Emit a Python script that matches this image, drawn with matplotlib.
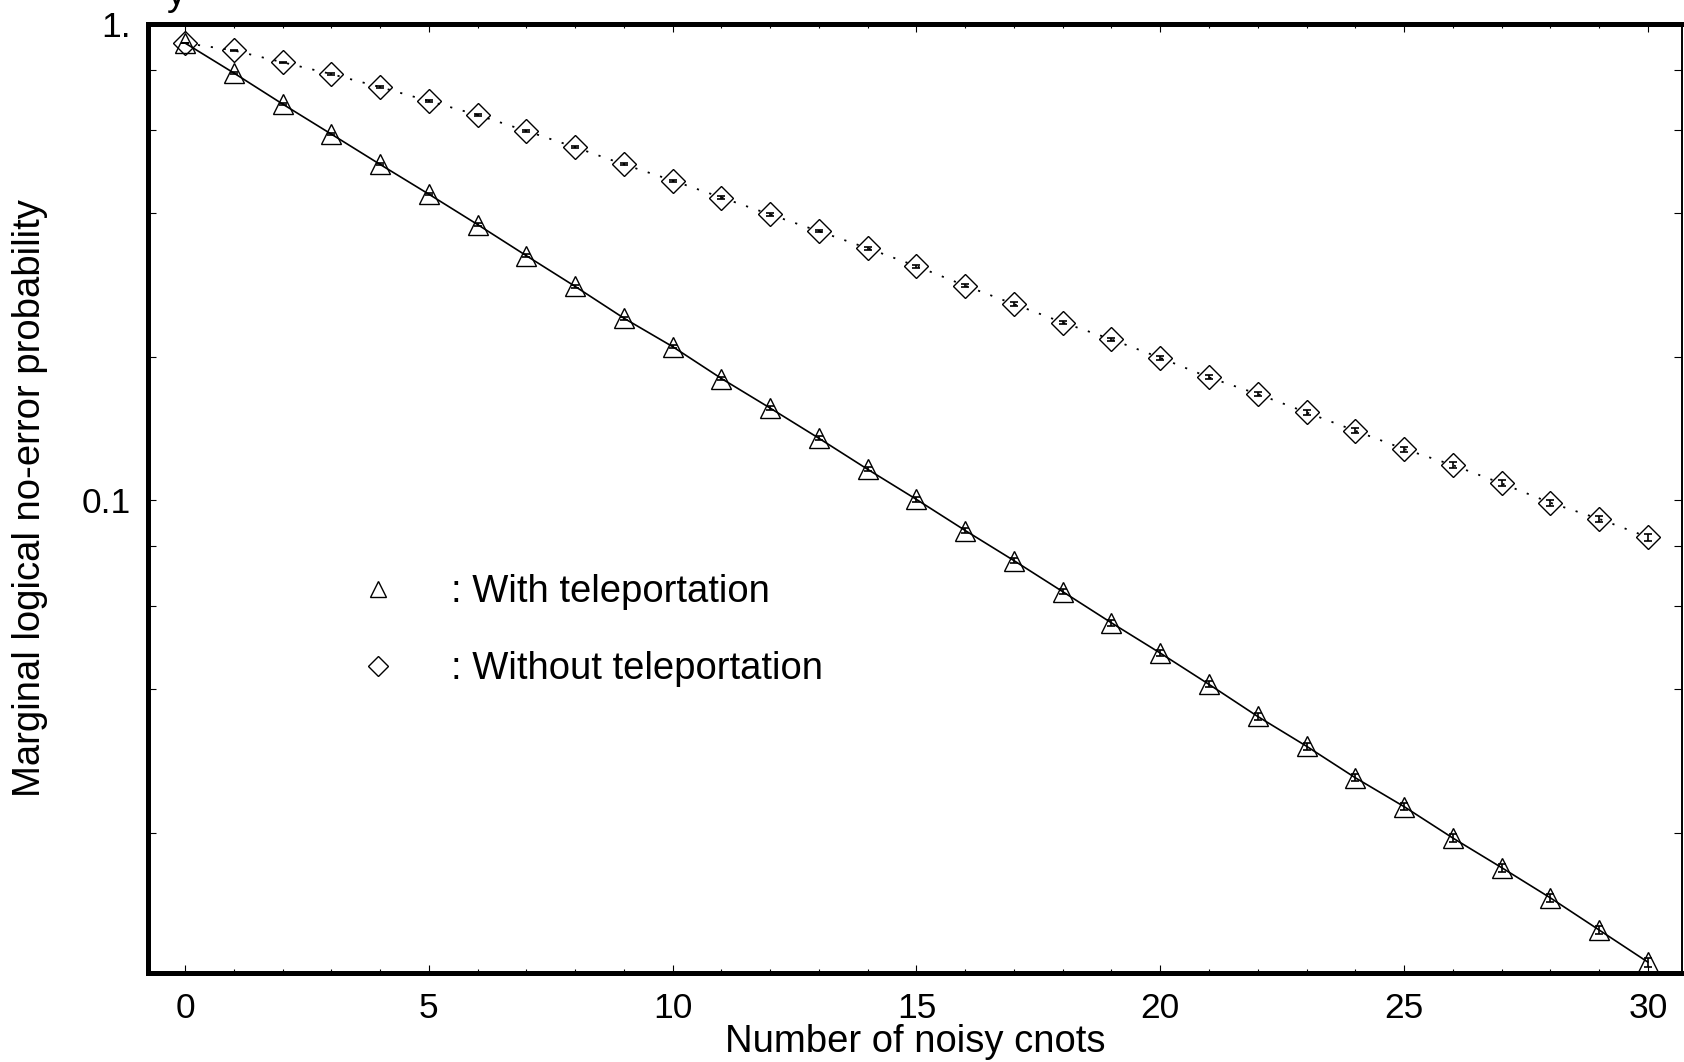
import matplotlib
matplotlib.use("Agg")
import matplotlib.pyplot as plt
from matplotlib.ticker import FixedLocator, NullFormatter, FixedFormatter
from matplotlib.lines import Line2D
import numpy as np

plt.rcParams['font.family'] = ['Liberation Sans', 'DejaVu Sans']

# number of noisy cnots
cnots = list(range(31))

# marginal logical no-error probability, with teleportation (triangles)
with_tele = [0.912, 0.789, 0.679, 0.587, 0.507, 0.439, 0.379, 0.326, 0.281, 0.241,
             0.210, 0.180, 0.156, 0.1348, 0.1160, 0.1003, 0.0863, 0.0746, 0.0642, 0.0552,
             0.0477, 0.0410, 0.0351, 0.0304, 0.0261, 0.0227, 0.0195, 0.0169, 0.0146, 0.0125,
             0.0107]
# relative error bar half-widths
with_tele_relerr = [0.002, 0.003, 0.004, 0.004, 0.005, 0.005, 0.006, 0.006, 0.007, 0.007,
                    0.008, 0.008, 0.009, 0.009, 0.010, 0.010, 0.011, 0.011, 0.012, 0.013,
                    0.013, 0.014, 0.015, 0.016, 0.016, 0.017, 0.018, 0.019, 0.020, 0.021,
                    0.022]

# without teleportation (diamonds)
without_tele = [0.912, 0.880, 0.831, 0.785, 0.737, 0.689, 0.644, 0.596, 0.551, 0.507,
                0.469, 0.432, 0.398, 0.367, 0.338, 0.310, 0.282, 0.258, 0.236, 0.2175,
                0.199, 0.181, 0.167, 0.1528, 0.1398, 0.1280, 0.1184, 0.1084, 0.0987, 0.0913,
                0.0836]
without_tele_relerr = [0.002, 0.002, 0.003, 0.003, 0.003, 0.004, 0.004, 0.004, 0.005, 0.005,
                       0.005, 0.006, 0.006, 0.006, 0.007, 0.007, 0.008, 0.008, 0.009, 0.009,
                       0.010, 0.010, 0.011, 0.011, 0.012, 0.012, 0.013, 0.014, 0.015, 0.016,
                       0.017]

y_major = [0.1, 1.0]
y_major_labels = ["0.1", "1."]
y_minor = [0.02, 0.04, 0.06, 0.08, 0.2, 0.4, 0.6, 0.8]

fig = plt.figure(figsize=(16.84, 10.62), dpi=100)
ax = fig.add_axes([0.0879, 0.0838, 0.9109, 0.8936])

wt = np.array(with_tele)
wo = np.array(without_tele)

# solid line + triangles
ax.plot(cnots, wt, color='black', lw=1.2, zorder=2)
ax.errorbar(cnots, wt, yerr=wt * np.array(with_tele_relerr), fmt='none',
            ecolor='black', elinewidth=1.2, capsize=3, capthick=1.2, zorder=3)
ax.plot(cnots, wt, ls='none', marker='^', ms=14, mfc='none', mec='black', mew=1.0,
        zorder=4, clip_on=False)

# dotted line + diamonds
ax.plot(cnots, wo, color='black', lw=1.3, ls=(0, (1.2, 6)), zorder=2)
ax.errorbar(cnots, wo, yerr=wo * np.array(without_tele_relerr), fmt='none',
            ecolor='black', elinewidth=1.2, capsize=3, capthick=1.2, zorder=3)
ax.plot(cnots, wo, ls='none', marker='D', ms=12, mfc='none', mec='black', mew=1.0,
        zorder=4, clip_on=False)

ax.set_yscale('log')
ax.set_xlim(-0.76, 30.70)
ax.set_ylim(0.01015, 1.0)

ax.set_xticks(range(0, 31, 5))
ax.set_xticks(range(0, 31), minor=True)
ax.yaxis.set_major_locator(FixedLocator(y_major))
ax.yaxis.set_major_formatter(FixedFormatter(y_major_labels))
ax.yaxis.set_minor_locator(FixedLocator(y_minor))
ax.yaxis.set_minor_formatter(NullFormatter())

ax.tick_params(which='both', direction='in', top=True, right=True, width=0.8, color='black')
ax.tick_params(axis='x', which='major', length=6, labelsize=25.5, pad=14)
ax.tick_params(axis='x', which='minor', length=3)
ax.tick_params(axis='y', which='both', length=6, labelsize=25.5, pad=12)

for side in ['left', 'top', 'bottom']:
    ax.spines[side].set_linewidth(3.6)
ax.spines['right'].set_linewidth(1.4)

ax.set_xlabel("Number of noisy cnots", fontsize=27.5)
ax.xaxis.set_label_coords(0.5, -0.0727)
ax.xaxis.label.set_va('center')
ax.set_ylabel("Marginal logical no-error probability", fontsize=27.5)
ax.yaxis.set_label_coords(-0.0769, 0.5)
ax.yaxis.label.set_va('center')

handles = [Line2D([], [], ls='none', marker='^', ms=12, mfc='none', mec='black', mew=1.0),
           Line2D([], [], ls='none', marker='D', ms=10, mfc='none', mec='black', mew=1.0)]
fig.legend(handles, [": With teleportation", ": Without teleportation"],
           loc='upper left', bbox_to_anchor=(0.2132, 0.4592), frameon=False,
           fontsize=27.5, handlelength=1.0, handletextpad=1.41, labelspacing=1.07,
           borderpad=0, borderaxespad=0)

# clipped heading at the very top edge
fig.text(0.105, 0.9953, "y", fontsize=27.5, ha='center', va='baseline')

fig.savefig("out.png", dpi=100)
